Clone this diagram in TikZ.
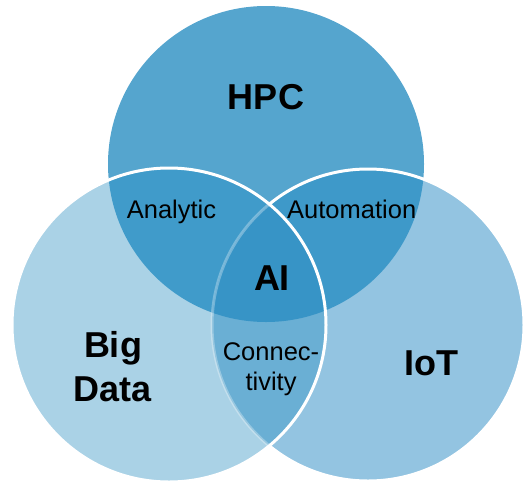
\documentclass[tikz,border=0pt]{standalone}
\usepackage{fontspec}
\setmainfont{Liberation Sans}
\definecolor{hpcC}{HTML}{55A5CE}
\definecolor{bdC}{HTML}{AAD2E6}
\definecolor{iotC}{HTML}{93C4E1}
\definecolor{anaC}{HTML}{409BCA}
\definecolor{autC}{HTML}{3E99C9}
\definecolor{aiC}{HTML}{3794C6}
\definecolor{conC}{HTML}{6AAFD4}
\tikzset{
  big/.style={font=\fontsize{36}{44}\selectfont\bfseries, inner sep=0pt, anchor=base, align=center},
  small/.style={font=\fontsize{25.5}{30}\selectfont, inner sep=0pt, anchor=base, align=center},
  rim/.style={draw=white, line width=3pt},
}
\begin{document}
\begin{tikzpicture}[x=1pt, y=-1pt]
\useasboundingbox (0,0) rectangle (524,485);
\coordinate (H) at (266,164);
\coordinate (B) at (169,325);
\coordinate (I) at (368,325);
\def\rH{158}\def\rB{157}\def\rI{156}
% HPC set
\fill[hpcC] (H) circle[radius=\rH];
% IoT set and its overlap with HPC
\fill[iotC] (I) circle[radius=\rI];
\begin{scope}
  \clip (H) circle[radius=\rH];
  \fill[autC] (I) circle[radius=\rI];
\end{scope}
\draw[rim] (I) circle[radius=\rI];
% Big Data set and its overlaps
\fill[bdC] (B) circle[radius=\rB];
\begin{scope}
  \clip (B) circle[radius=\rB];
  \fill[anaC] (H) circle[radius=\rH];
  \fill[conC] (I) circle[radius=\rI];
  \clip (H) circle[radius=\rH];
  \fill[aiC] (I) circle[radius=\rI];
\end{scope}
\begin{scope}
  \clip (B) circle[radius=\rB];
  \draw[rim, draw opacity=0.3] (I) circle[radius=\rI];
\end{scope}
\draw[rim] (B) circle[radius=\rB];
% labels (multi-line nodes sit on the baseline of their last line)
\node[big] (hpc) at (266,109) {HPC};
\node[big] (bd) at (113,401) {Big\\Data};
\node[big] (iot) at (431,375) {IoT};
\node[big] (ai) at (272,290) {AI};
\node[small] (ana) at (171.5,218.3) {Analytic};
\node[small] (aut) at (351.7,218.3) {Automation};
\node[small] (con) at (271,390) {Connec-\\tivity};
\end{tikzpicture}
\end{document}
